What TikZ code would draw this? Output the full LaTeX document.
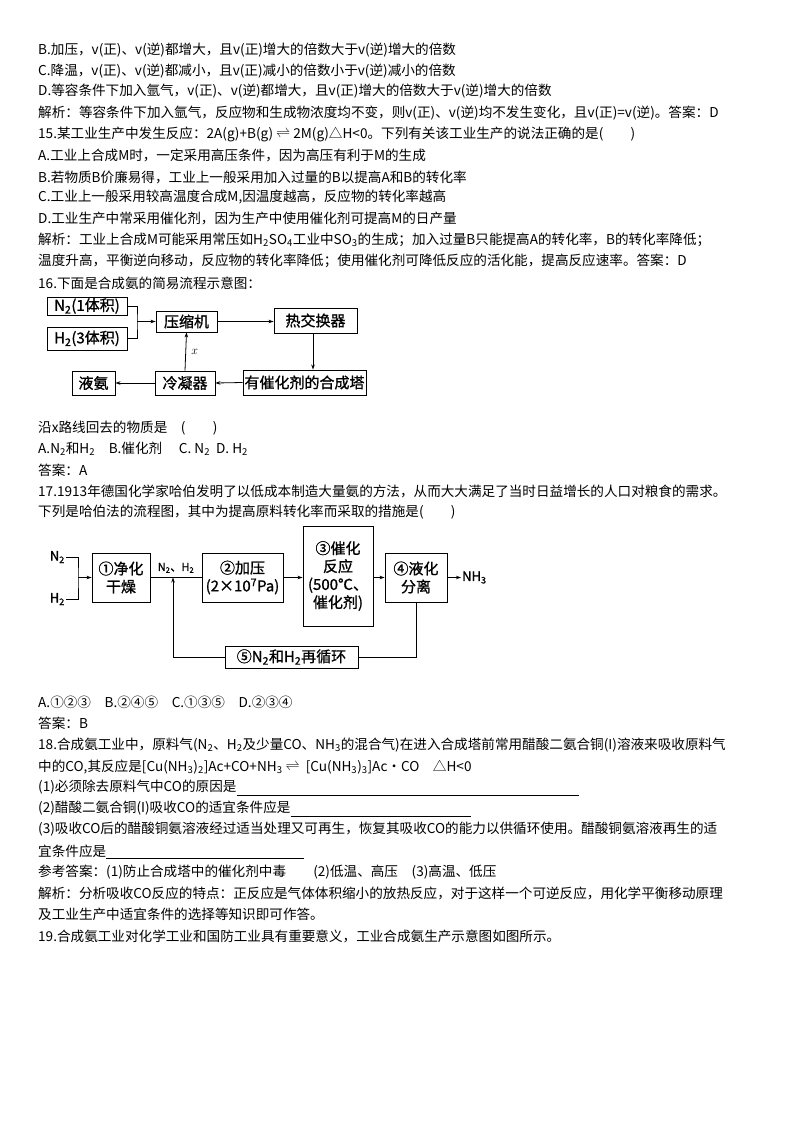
\documentclass[tikz,border=0pt]{standalone}
\usepackage{fontspec}
\setmainfont{Noto Sans CJK SC}
\newfontfamily\dg[FakeBold=1]{Noto Sans CJK SC}
\usetikzlibrary{arrows.meta}
\newcommand{\sbs}[1]{\textsubscript{#1}}
\newcommand{\eqa}{\raisebox{0.5pt}{$\rightleftharpoons$}}
\begin{document}
\begin{tikzpicture}[x=1pt,y=-1pt,
  tl/.style={anchor=west,inner sep=0pt,font=\fontsize{13.6}{16}\selectfont},
  box/.style={draw,line width=0.9pt,inner sep=1pt,align=center,font=\dg\fontsize{15}{18}\selectfont},
  arr/.style={-{Stealth[length=5pt,width=3.5pt]},line width=0.8pt},
  ln/.style={line width=0.8pt},
  ul/.style={line width=0.6pt}]
\useasboundingbox (0,0) rectangle (800,1132);
\fill[white] (0,0) rectangle (800,1132);
\node[tl] (l1) at (38,50) {B.加压，v(正)、v(逆)都增大，且v(正)增大的倍数大于v(逆)增大的倍数};
\node[tl] (l2) at (38,71) {C.降温，v(正)、v(逆)都减小，且v(正)减小的倍数小于v(逆)减小的倍数};
\node[tl] (l3) at (38,91) {D.等容条件下加入氩气，v(正)、v(逆)都增大，且v(正)增大的倍数大于v(逆)增大的倍数};
\node[tl] (l4) at (38,113) {解析：等容条件下加入氩气，反应物和生成物浓度均不变，则v(正)、v(逆)均不发生变化，且v(正)=v(逆)。答案：D};
\node[tl] (l5) at (38,134) {15.某工业生产中发生反应：2A(g)+B(g)\ \eqa\ 2M(g)△H<0。下列有关该工业生产的说法正确的是(\qquad)};
\node[tl] (l6) at (38,155) {A.工业上合成M时，一定采用高压条件，因为高压有利于M的生成};
\node[tl] (l7) at (38,177) {B.若物质B价廉易得，工业上一般采用加入过量的B以提高A和B的转化率};
\node[tl] (l8) at (38,197) {C.工业上一般采用较高温度合成M,因温度越高，反应物的转化率越高};
\node[tl] (l9) at (38,218) {D.工业生产中常采用催化剂，因为生产中使用催化剂可提高M的日产量};
\node[tl] (l10) at (38,240) {解析：工业上合成M可能采用常压如H\sbs{2}SO\sbs{4}工业中SO\sbs{3}的生成；加入过量B只能提高A的转化率，B的转化率降低；};
\node[tl] (l11) at (38,261) {温度升高，平衡逆向移动，反应物的转化率降低；使用催化剂可降低反应的活化能，提高反应速率。答案：D};
\node[tl] (l12) at (38,283) {16.下面是合成氨的简易流程示意图：};
% diagram 1
\node[box,minimum width=80,minimum height=18] (n2) at (87,306) {N\sbs{2}(1体积)};
\node[box,minimum width=80,minimum height=23] (h2) at (87,338.5) {H\sbs{2}(3体积)};
\node[box,minimum width=61,minimum height=21] (ysj) at (186.5,321.5) {压缩机};
\node[box,minimum width=83,minimum height=25] (rjh) at (315.5,320.5) {热交换器};
\node[box,minimum width=123,minimum height=25] (hct) at (304.5,382.5) {有催化剂的合成塔};
\node[box,minimum width=60,minimum height=24] (lnq) at (185,383) {冷凝器};
\node[box,minimum width=43,minimum height=24] (ya) at (93.5,383) {液氨};
\coordinate (j) at (137,321.5);
\coordinate (rd) at (313,0);
\draw[ln] (n2.east) -| (j) |- (h2.east);
\draw[arr] (j) -- (ysj.west);
\draw[arr] (ysj.east) -- (ysj.east -| rjh.west);
\draw[arr] (rd |- rjh.south) -- (rd |- hct.north);
\draw[arr] (hct.west) -- (lnq.east);
\draw[arr] (lnq.west) -- (ya.east);
\draw[arr] (lnq.north) -- (ysj.south) node[midway,right=2pt,font=\fontsize{13}{14}\selectfont] (xl) {$x$};
% text
\node[tl] (l13) at (38,428) {沿x路线回去的物质是\quad(\qquad)};
\node[tl] (l14) at (38,449) {A.N\sbs{2}和H\sbs{2}\quad B.催化剂\quad\ C. N\sbs{2}\ \ D. H\sbs{2}};
\node[tl] (l15) at (38,470) {答案：A};
\node[tl] (l16) at (38,491) {17.1913年德国化学家哈伯发明了以低成本制造大量氨的方法，从而大大满足了当时日益增长的人口对粮食的需求。};
\node[tl] (l17) at (38,512) {下列是哈伯法的流程图，其中为提高原料转化率而采取的措施是(\qquad)};
% diagram 2
\node[font=\dg\fontsize{13}{14}\selectfont,anchor=east,inner sep=1pt] (tn2) at (66,557) {N\sbs{2}};
\node[font=\dg\fontsize{13}{14}\selectfont,anchor=east,inner sep=1pt] (th2) at (66,599) {H\sbs{2}};
\node[box,minimum width=58,minimum height=49] (b1) at (121,577.5) {①净化\\干燥};
\node[box,minimum width=81,minimum height=49] (b2) at (242.5,577.5) {②加压\\(2×10\textsuperscript{7}Pa)};
\node[box,minimum width=70,minimum height=100] (b3) at (338,576) {③催化\\反应\\(500℃、\\催化剂)};
\node[box,minimum width=62,minimum height=49] (b4) at (416,577.5) {④液化\\分离};
\node[box,minimum width=133,minimum height=22] (b5) at (291.5,657) {⑤N\sbs{2}和H\sbs{2}再循环};
\node[font=\dg\fontsize{13}{14}\selectfont,anchor=west,inner sep=1pt] (nh3) at (461,577.5) {NH\sbs{3}};
\coordinate (j2) at (78,577.5);
\coordinate (r) at (173,577.5);
\draw[ln] (tn2.east) -| (j2) |- (th2.east);
\draw[arr] (j2) -- (b1.west);
\draw[ln] (b1.east) -- (b2.west) node[pos=0.5,above=1pt,font=\dg\fontsize{11}{12}\selectfont] (nh) {N\sbs{2}、H\sbs{2}};
\draw[arr] (b2.east) -- (b3.west |- b2.east);
\draw[arr] (b3.east |- b4.west) -- (b4.west);
\draw[arr] (b4.east) -- (nh3.west);
\draw[ln] (b4.south) |- (b5.east);
\draw[arr] (b5.west) -| (r);
% text
\node[tl] (l18) at (38,702) {A.①②③\quad B.②④⑤\quad C.①③⑤\quad D.②③④};
\node[tl] (l19) at (38,723) {答案：B};
\node[tl] (l20) at (38,745) {18.合成氨工业中，原料气(N\sbs{2}、H\sbs{2}及少量CO、NH\sbs{3}的混合气)在进入合成塔前常用醋酸二氨合铜(I)溶液来吸收原料气};
\node[tl] (l21) at (38,767) {中的CO,其反应是[Cu(NH\sbs{3})\sbs{2}]Ac+CO+NH\sbs{3}\ \eqa\ \ [Cu(NH\sbs{3})\sbs{3}]Ac·CO\quad△H<0};
\node[tl] (l22) at (38,787) {(1)必须除去原料气中CO的原因是};
\node[tl] (l23) at (38,808) {(2)醋酸二氨合铜(I)吸收CO的适宜条件应是};
\node[tl] (l24) at (38,829) {(3)吸收CO后的醋酸铜氨溶液经过适当处理又可再生，恢复其吸收CO的能力以供循环使用。醋酸铜氨溶液再生的适};
\node[tl] (l25) at (38,851) {宜条件应是};
\draw[ul] (l22.south east) ++(0,1) coordinate (u1) -- ++(342,0);
\draw[ul] (l23.south east) ++(0,1) coordinate (u2) -- ++(180,0);
\draw[ul] (l25.south east) ++(0,1) coordinate (u3) -- ++(198,0);
\node[tl] (l26) at (38,872) {参考答案：(1)防止合成塔中的催化剂中毒\qquad(2)低温、高压\quad(3)高温、低压};
\node[tl] (l27) at (38,893) {解析：分析吸收CO反应的特点：正反应是气体体积缩小的放热反应，对于这样一个可逆反应，用化学平衡移动原理};
\node[tl] (l28) at (38,914) {及工业生产中适宜条件的选择等知识即可作答。};
\node[tl] (l29) at (38,936) {19.合成氨工业对化学工业和国防工业具有重要意义，工业合成氨生产示意图如图所示。};
\end{tikzpicture}
\end{document}
